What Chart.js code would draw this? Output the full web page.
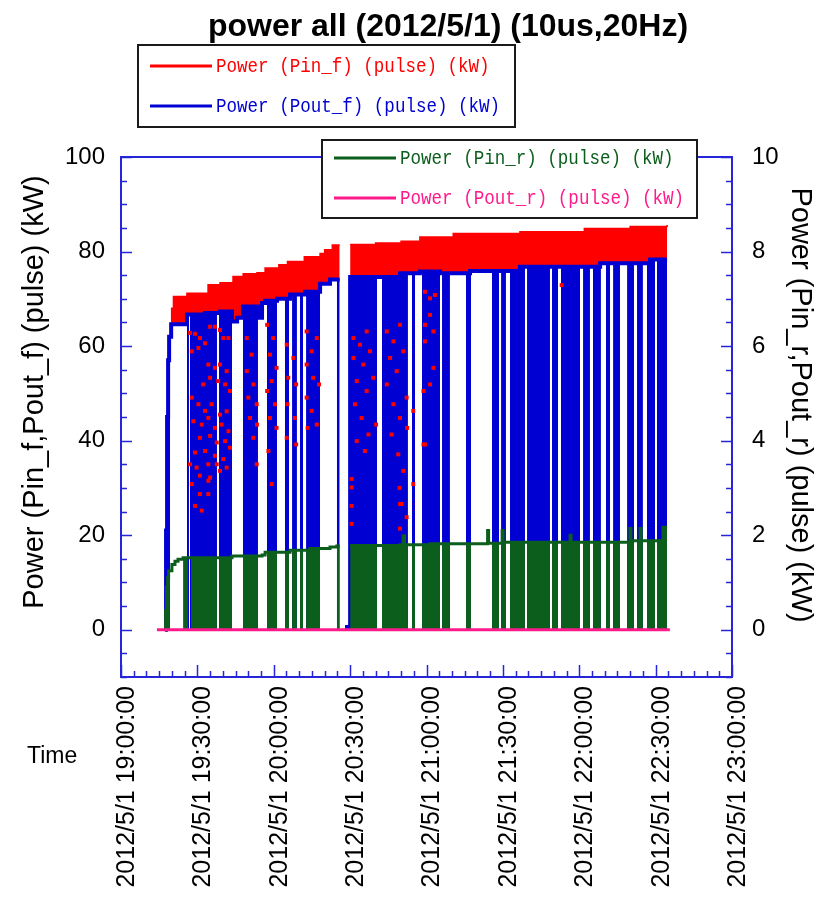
<!DOCTYPE html>
<html>
<head>
<meta charset="utf-8">
<script src="https://cdn.jsdelivr.net/npm/chart.js@4.4.1/dist/chart.umd.min.js"></script>
<style>
  html, body { margin: 0; padding: 0; background: #fff; }
  #c { display: block; }
</style>
</head>
<body>
<canvas id="c" width="832" height="899"></canvas>
<script>
// Pulse power log, 2012/5/1, 10 us pulses at 20 Hz.
// Times are minutes after 19:00; forward powers in kW on the left axis,
// reflected powers in kW on the right axis.

const DATE = '2012/5/1';
const xTickMinutes = [0, 30, 60, 90, 120, 150, 180, 210, 240];
const leftTicks = [0, 20, 40, 60, 80, 100];
const rightTicks = [0, 2, 4, 6, 8, 10];

const seriesNames = [
  'Power (Pin_f) (pulse) (kW)',
  'Power (Pout_f) (pulse) (kW)',
  'Power (Pin_r) (pulse) (kW)',
  'Power (Pout_r) (pulse) (kW)'
];
const seriesColors = ['#ff0000', '#0000d2', '#0b5e1c', '#ff1a8c'];

// Pin_f: upper edge of the pulse amplitude band (kW); each value holds from its time on
const pinF_top = [
  [19.4, 64.6], [19.9, 68.0], [20.6, 70.5], [25.9, 71.2], [34.2, 73.0], [38.9, 73.4],
  [44.0, 74.7], [48.0, 75.3], [53.4, 75.5], [56.6, 76.5], [62.0, 77.2], [65.4, 77.9],
  [72.0, 78.9], [78.2, 79.6], [80.0, 80.4], [83.0, 81.4], [85.9, 81.4], [86.0, null],
  [90.0, 81.5], [100.0, 81.8], [110.0, 82.2], [117.4, 83.1], [130.5, 83.8], [156.7, 84.2],
  [182.0, 84.9], [200.0, 85.3], [214.5, 85.6]
];

// Pin_f: isolated low samples seen inside the pulsed runs
const pinF_scatter = [
  [27.1, 62.8], [29.1, 62.6], [31.0, 61.7], [27.8, 58.9], [30.4, 59.6], [33.0, 60.6], [35.0, 64.1],
  [36.9, 64.1], [38.9, 63.4], [40.2, 61.7], [42.2, 61.7], [34.3, 56.1], [36.9, 55.4], [38.9, 56.1],
  [41.5, 54.7], [32.3, 51.9], [35.0, 53.3], [38.2, 52.6], [40.9, 51.9], [42.8, 50.5], [27.8, 49.1],
  [30.4, 47.7], [33.0, 46.3], [35.6, 47.7], [38.9, 45.5], [41.5, 46.2], [28.4, 44.1], [31.7, 43.4],
  [34.3, 44.8], [36.9, 42.7], [39.5, 43.4], [42.2, 42.0], [31.0, 40.6], [35.0, 41.0], [37.6, 39.6],
  [40.9, 39.9], [29.1, 37.5], [33.0, 37.8], [36.9, 36.8], [40.2, 36.1], [42.8, 38.5], [27.1, 35.0],
  [29.7, 34.3], [34.3, 35.0], [37.6, 35.0], [31.0, 32.6], [35.0, 32.2], [38.9, 33.6], [41.5, 34.3],
  [27.8, 30.8], [31.0, 28.7], [34.3, 31.5], [29.1, 26.2], [31.7, 25.2], [34.3, 28.7],
  [49.4, 61.7], [51.3, 58.2], [49.4, 54.7], [52.0, 51.9], [50.0, 49.1], [53.3, 47.7], [50.7, 44.8],
  [53.4, 43.4], [52.0, 40.6], [53.3, 35.0], [57.4, 64.5], [59.8, 61.7], [58.5, 58.2], [61.1, 55.4],
  [59.2, 52.6], [57.4, 50.5], [60.5, 47.7], [58.5, 44.8], [61.1, 42.7], [57.9, 37.8], [59.2, 30.8],
  [65.1, 60.3], [67.7, 57.5], [65.7, 53.3], [68.8, 51.9], [65.4, 47.7], [68.3, 44.8], [65.1, 40.6],
  [68.8, 39.2], [72.9, 63.1], [74.9, 58.9], [72.9, 56.1], [76.9, 61.7], [75.5, 53.3], [72.9, 49.1],
  [74.9, 46.3], [76.9, 43.4], [73.3, 42.7], [77.8, 51.9],
  [91.3, 61.7], [93.9, 60.3], [96.5, 63.1], [91.3, 57.5], [95.2, 56.1], [97.8, 58.9], [92.6, 52.6],
  [96.5, 50.5], [99.1, 53.3], [91.9, 47.7], [94.5, 44.8], [97.2, 41.3], [100.2, 43.4], [92.6, 39.9],
  [95.8, 37.8], [104.4, 63.1], [107.0, 61.0], [109.6, 64.5], [105.7, 57.5], [110.9, 58.9], [108.3, 54.7],
  [104.4, 51.9], [112.2, 49.1], [107.0, 47.7], [109.6, 44.8], [112.4, 42.7], [106.3, 41.3], [108.9, 37.1],
  [110.9, 33.6], [114.8, 46.3], [118.8, 50.5], [118.8, 39.2], [110.2, 26.6], [112.2, 23.8], [114.8, 30.8],
  [109.6, 26.6], [109.6, 21.4], [109.4, 30.0], [90.6, 31.9], [90.6, 30.1], [90.6, 26.2], [90.6, 22.4],
  [119.4, 71.5], [121.4, 70.1], [123.3, 70.8], [119.4, 64.5], [121.4, 66.6], [122.7, 63.1], [119.4, 61.0],
  [122.7, 55.4], [121.4, 51.9], [119.4, 39.2], [173.1, 72.9]
];

// Pout_f: pulse amplitude (kW); each value holds from its time on
const poutF_level = [
  [17.3, 0], [17.7, 21], [18.1, 45], [18.5, 57], [18.9, 62], [19.7, 64.6], [25.9, 66.7],
  [33.0, 67.0], [38.9, 67.3], [43.6, 65.2], [45.6, 66.0], [47.9, 68.4], [53.8, 66.0],
  [55.4, 69.1], [56.6, 69.6], [61.3, 70.0], [66.4, 70.9], [72.3, 71.5], [78.2, 73.2],
  [82.1, 74.1], [85.9, 74.1], [86.0, null], [88.0, 0.6], [90.0, 74.6], [109.6, 75.4],
  [117.4, 75.8], [125.3, 75.4], [137.1, 75.9], [156.7, 76.8], [188.2, 77.5], [207.8, 78.3],
  [214.5, 78.3]
];

// Pout_f: runs [start, end] in which pulses keep dropping out to 0 kW
const poutF_pulsed = [
  [17.7, 19.3], [25.9, 26.7], [27.1, 37.7], [38.5, 43.6], [47.9, 53.8], [57.3, 61.3],
  [64.4, 66.0], [67.2, 69.1], [70.3, 71.5], [72.7, 78.2], [84.8, 85.9], [90.0, 100.6],
  [102.5, 112.7], [114.3, 115.5], [118.2, 125.3], [126.1, 129.2], [135.5, 137.5],
  [145.7, 148.5], [149.3, 151.2], [152.8, 158.7], [159.5, 168.5], [169.3, 171.7],
  [172.8, 180.3], [181.5, 184.2], [185.4, 188.5], [190.5, 192.1], [193.3, 196.0],
  [198.8, 201.5], [202.7, 205.0], [206.6, 209.8], [210.5, 214.5]
];

// Pin_r: pulse amplitude (kW, right axis); each value holds from its time on
const pinR_level = [
  [17.3, 0], [17.5, 0.4], [17.9, 0.9], [18.3, 1.1], [18.7, 1.25], [20.0, 1.38], [21.2, 1.45],
  [22.4, 1.49], [24.4, 1.52], [43.6, 1.56], [55.4, 1.58], [56.6, 1.64], [66.4, 1.68],
  [74.2, 1.72], [82.1, 1.75], [84.8, 1.77], [85.9, 1.77], [86.0, null], [90.0, 1.78],
  [109.6, 1.80], [110.8, 1.99], [111.4, 1.80], [121.4, 1.82], [144.0, 2.10], [144.4, 1.83],
  [149.7, 2.10], [150.1, 1.85], [176.4, 2.00], [176.8, 1.85], [199.9, 2.14], [200.3, 1.88],
  [203.9, 2.14], [204.3, 1.88], [212.9, 2.17], [214.5, 2.17]
];

// Pin_r: runs [start, end] in which pulses keep dropping out to 0 kW
const pinR_pulsed = [
  [17.5, 19.3], [24.4, 26.3], [27.5, 37.7], [38.5, 43.6], [47.9, 53.8], [57.3, 61.3],
  [64.4, 66.0], [67.2, 69.1], [70.3, 71.5], [72.7, 78.2], [84.8, 85.9], [90.0, 100.6],
  [102.5, 112.7], [114.3, 115.5], [118.2, 125.3], [126.1, 129.2], [135.5, 137.5],
  [145.7, 148.5], [149.3, 151.2], [152.8, 158.7], [159.5, 168.5], [169.3, 171.7],
  [172.8, 180.3], [181.5, 184.2], [185.4, 188.5], [190.5, 192.1], [193.3, 196.0],
  [198.8, 201.5], [202.7, 205.0], [206.6, 209.8], [210.5, 214.5]
];

// Pout_r (kW, right axis)
const poutR = [[14.1, 0], [215.6, 0]];

// ---------------------------------------------------------------------------

const AXIS = '#2626d8';
const FONT = "'Liberation Sans', Arial, sans-serif";
const MONO = "'Liberation Mono', 'DejaVu Sans Mono', monospace";
// each level holds until the next time stamp
const STEP = 'before';

const toXY = arr => arr.map(([x, y]) => ({ x, y }));

// value of a step series in effect at time t
function levelAt(series, t) {
  let v = null;
  for (const [x, y] of series) {
    if (x <= t) v = y; else break;
  }
  return v;
}

// area under a step series, limited to the pulsed runs (gaps between runs)
function pulsedArea(runs, series) {
  const pts = [];
  runs.forEach(([s, e]) => {
    pts.push({ x: s, y: levelAt(series, s) });
    series.forEach(([x, y]) => {
      if (x > s && x < e && y !== null) pts.push({ x, y });
    });
    pts.push({ x: e, y: levelAt(series, e - 1e-6) });
    pts.push({ x: e + 1e-3, y: null });
  });
  return pts;
}

function clock(m) {
  const h = 19 + Math.floor(m / 60);
  const mm = Math.round(m % 60);
  return h + ':' + String(mm).padStart(2, '0') + ':00';
}

const [RED, BLUE, GREEN, PINK] = seriesColors;

const overlay = {
  id: 'overlay',
  afterDraw(chart) {
    const { ctx, chartArea: { left, right, top, bottom }, scales: { x, y } } = chart;
    ctx.save();

    // upper frame edge
    ctx.strokeStyle = AXIS;
    ctx.lineWidth = 2;
    ctx.beginPath();
    ctx.moveTo(left, top);
    ctx.lineTo(right, top);
    ctx.stroke();

    // inward tick marks
    ctx.lineWidth = 1.5;
    ctx.beginPath();
    for (let v = -10; v <= 100; v += 5) {
      const py = Math.round(y.getPixelForValue(v)) + 0.5;
      const len = v % 20 === 0 ? 11 : 6;
      ctx.moveTo(left, py); ctx.lineTo(left + len, py);
      ctx.moveTo(right, py); ctx.lineTo(right - len, py);
    }
    for (let m = 0; m <= 240; m += 5) {
      const px = Math.round(x.getPixelForValue(m)) + 0.5;
      const len = m % 30 === 0 ? 12 : 6;
      ctx.moveTo(px, bottom); ctx.lineTo(px, bottom - len);
    }
    ctx.stroke();

    // legend boxes
    const boxes = [
      { x: 138, y: 45, w: 377, h: 82, items: [[0, 66], [1, 106]] },
      { x: 322, y: 140, w: 375, h: 78, items: [[2, 158], [3, 198]] }
    ];
    boxes.forEach(b => {
      ctx.fillStyle = '#fff';
      ctx.fillRect(b.x, b.y, b.w, b.h);
      ctx.strokeStyle = '#1a1a1a';
      ctx.lineWidth = 2;
      ctx.strokeRect(b.x, b.y, b.w, b.h);
      b.items.forEach(([i, ly]) => {
        ctx.strokeStyle = seriesColors[i];
        ctx.lineWidth = 3;
        ctx.beginPath();
        ctx.moveTo(b.x + 12, ly);
        ctx.lineTo(b.x + 74, ly);
        ctx.stroke();
        ctx.save();
        ctx.fillStyle = seriesColors[i];
        ctx.font = '21px ' + MONO;
        ctx.textBaseline = 'middle';
        ctx.textAlign = 'left';
        ctx.translate(b.x + 78, ly);
        ctx.scale(0.835, 1);
        ctx.fillText(seriesNames[i], 0, 0);
        ctx.restore();
      });
    });

    // titles
    ctx.fillStyle = '#000';
    ctx.textAlign = 'center';
    ctx.textBaseline = 'middle';
    ctx.font = 'bold 32px ' + FONT;
    ctx.fillText('power all (2012/5/1) (10us,20Hz)', 448, 27);

    ctx.font = '29px ' + FONT;
    ctx.save();
    ctx.translate(35, 392);
    ctx.rotate(-Math.PI / 2);
    ctx.fillText('Power (Pin_f,Pout_f) (pulse) (kW)', 0, 0);
    ctx.restore();

    ctx.save();
    ctx.translate(800, 405);
    ctx.rotate(Math.PI / 2);
    ctx.fillText('Power (Pin_r,Pout_r) (pulse) (kW)', 0, 0);
    ctx.restore();

    ctx.font = '23px ' + FONT;
    ctx.textAlign = 'left';
    ctx.fillText('Time', 27, 757);

    ctx.restore();
  }
};

new Chart(document.getElementById('c'), {
  type: 'line',
  data: {
    datasets: [
      {
        label: seriesNames[0], data: toXY(pinF_top), yAxisID: 'y',
        borderColor: RED, backgroundColor: RED, borderWidth: 1.5,
        stepped: STEP, fill: { target: 1 }, pointRadius: 0, order: 6
      },
      {
        label: seriesNames[1], data: toXY(poutF_level), yAxisID: 'y',
        borderColor: BLUE, borderWidth: 4, stepped: STEP, fill: false,
        pointRadius: 0, order: 4
      },
      {
        label: seriesNames[1], data: pulsedArea(poutF_pulsed, poutF_level), yAxisID: 'y',
        borderColor: BLUE, backgroundColor: BLUE, borderWidth: 1, stepped: STEP,
        fill: 'origin', pointRadius: 0, order: 5
      },
      {
        label: seriesNames[0], data: toXY(pinF_scatter), yAxisID: 'y',
        showLine: false, pointStyle: 'rect', pointRadius: 2.8, pointBorderWidth: 0,
        pointBackgroundColor: RED, order: 3
      },
      {
        label: seriesNames[2], data: pulsedArea(pinR_pulsed, pinR_level), yAxisID: 'y2',
        borderColor: GREEN, backgroundColor: GREEN, borderWidth: 1, stepped: STEP,
        fill: 'origin', pointRadius: 0, order: 2
      },
      {
        label: seriesNames[2], data: toXY(pinR_level), yAxisID: 'y2',
        borderColor: GREEN, borderWidth: 3, stepped: STEP, fill: false,
        pointRadius: 0, order: 1
      },
      {
        label: seriesNames[3], data: toXY(poutR), yAxisID: 'y2',
        borderColor: PINK, borderWidth: 3, fill: false, pointRadius: 0, order: 0
      }
    ]
  },
  options: {
    responsive: false,
    animation: false,
    devicePixelRatio: 1,
    events: [],
    layout: { padding: { top: 157, left: 0, right: 0, bottom: 0 } },
    plugins: { legend: { display: false }, tooltip: { enabled: false }, title: { display: false } },
    scales: {
      x: {
        type: 'linear', position: 'bottom', min: 0, max: 240,
        afterFit: s => { s.height = 222; },
        afterBuildTicks: s => { s.ticks = xTickMinutes.map(v => ({ value: v })); },
        ticks: {
          autoSkip: false, minRotation: 90, maxRotation: 90, padding: 9, labelOffset: 6,
          color: '#000', font: { family: FONT, size: 25 },
          callback: v => DATE + ' ' + clock(v)
        },
        grid: { display: false, drawTicks: false },
        border: { display: true, color: AXIS, width: 2 }
      },
      y: {
        type: 'linear', position: 'left', min: -10, max: 100,
        afterFit: s => { s.width = 121; },
        afterBuildTicks: s => { s.ticks = leftTicks.map(v => ({ value: v })); },
        ticks: { padding: 16, color: '#000', font: { family: FONT, size: 24 } },
        grid: { display: false, drawTicks: false },
        border: { display: true, color: AXIS, width: 2 }
      },
      y2: {
        type: 'linear', position: 'right', min: -1, max: 10,
        afterFit: s => { s.width = 100; },
        afterBuildTicks: s => { s.ticks = rightTicks.map(v => ({ value: v })); },
        ticks: { padding: 20, color: '#000', font: { family: FONT, size: 24 } },
        grid: { display: false, drawTicks: false },
        border: { display: true, color: AXIS, width: 2 }
      }
    }
  },
  plugins: [overlay]
});
</script>
</body>
</html>
